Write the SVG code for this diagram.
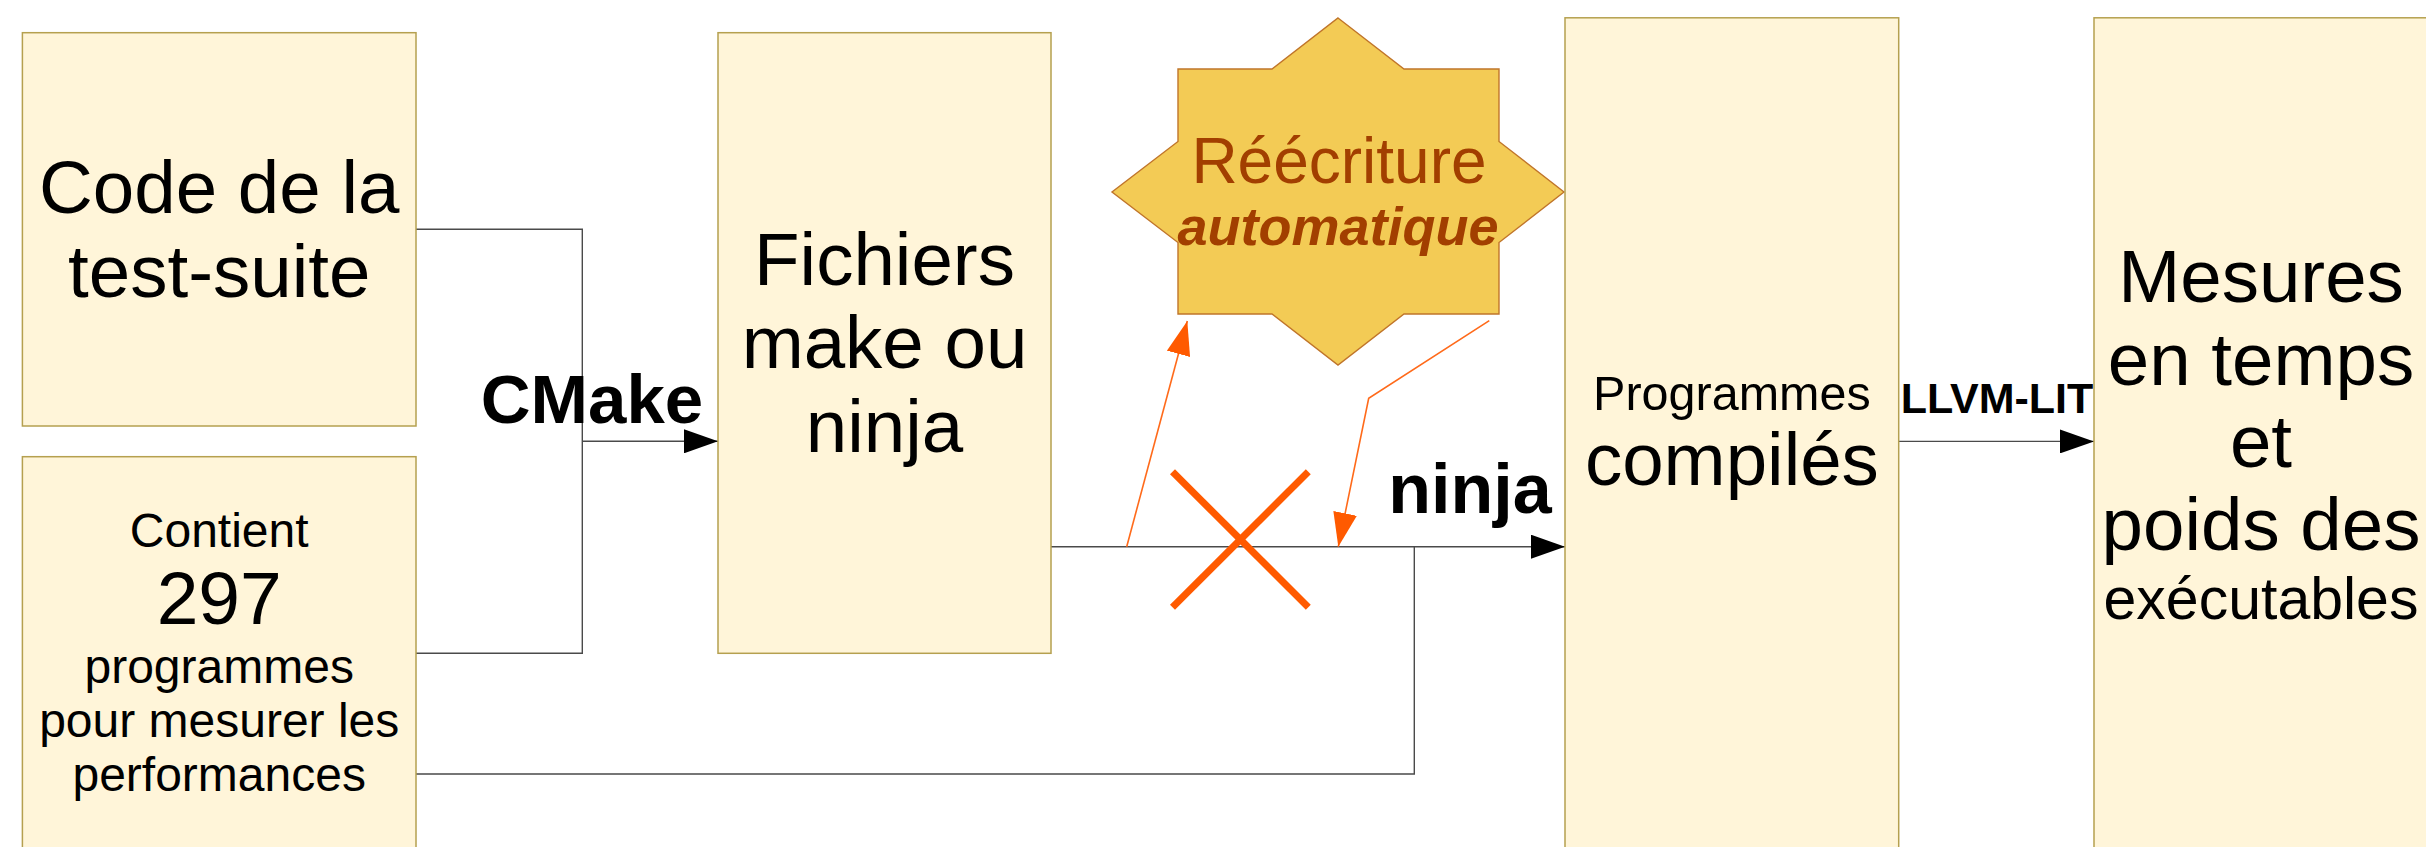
<svg xmlns="http://www.w3.org/2000/svg" width="2426" height="847" viewBox="0 0 2426 847">
  <style>
    .box { fill: #fff5d9; stroke: #b5a04f; stroke-width: 1.5; }
    .t { font-family: "Liberation Sans", Arial, sans-serif; fill: #000; text-anchor: middle; }
    .lbl { font-family: "Liberation Sans", Arial, sans-serif; font-weight: bold; fill: #000; text-anchor: middle; }
    .wire { fill: none; stroke: #4a4a4a; stroke-width: 1.4; }
    .orange { fill: none; stroke: #ff6a1a; stroke-width: 1.6; }
    .star-t { font-family: "Liberation Sans", Arial, sans-serif; fill: #a23f00; text-anchor: middle; }
  </style>
  <defs>
    <marker id="arrow" markerWidth="34" markerHeight="24" refX="34" refY="12" orient="auto" markerUnits="userSpaceOnUse">
      <path d="M0,0 L34,12 L0,24 Z" fill="#000"/>
    </marker>
    <marker id="arrow-o" markerWidth="34" markerHeight="24" refX="34" refY="12" orient="auto" markerUnits="userSpaceOnUse">
      <path d="M0,0 L34,12 L0,24 Z" fill="#ff5a00"/>
    </marker>
  </defs>

  <rect width="2426" height="847" fill="#fff"/>

  <!-- connectors -->
  <g id="connectors">
    <!-- both sources merge into CMake -->
    <polyline class="wire" points="416,229.3 582.3,229.3 582.3,653.3 416,653.3"/>
    <line class="wire" x1="582.3" y1="441.3" x2="718" y2="441.3" stroke="#000" marker-end="url(#arrow)"/>
    <!-- ninja build -->
    <line class="wire" x1="1051" y1="546.7" x2="1565" y2="546.7" stroke="#000" marker-end="url(#arrow)"/>
    <polyline class="wire" points="416,774 1414.3,774 1414.3,546.7"/>
    <!-- LLVM-LIT -->
    <line class="wire" x1="1898.7" y1="441.4" x2="2094" y2="441.4" stroke="#000" marker-end="url(#arrow)"/>
    <!-- rewriting detour -->
    <line class="orange" x1="1126.7" y1="546.7" x2="1187.3" y2="321" marker-end="url(#arrow-o)"/>
    <polyline class="orange" points="1489.3,320.7 1368.7,398.3 1338.3,546.7" marker-end="url(#arrow-o)"/>
    <!-- crossed-out path -->
    <g stroke="#ff5a00" stroke-width="7">
      <line x1="1172.5" y1="471.7" x2="1308.3" y2="607.3"/>
      <line x1="1308.3" y1="471.7" x2="1172.5" y2="607.3"/>
    </g>
    <text class="lbl" x="592" y="422.7" font-size="69">CMake</text>
    <text class="lbl" x="1470" y="513.3" font-size="70">ninja</text>
    <text class="lbl" x="1997" y="413.3" font-size="43">LLVM-LIT</text>
  </g>

  <g id="code">
    <rect class="box" x="22.4" y="32.7" width="393.6" height="393.3"/>
    <text class="t" font-size="74.5" x="219.2" y="213.3">Code de la</text>
    <text class="t" font-size="74.5" x="219.2" y="296.7">test-suite</text>
  </g>

  <g id="contient">
    <rect class="box" x="22.4" y="456.7" width="393.6" height="420"/>
    <text class="t" font-size="48" x="219.2" y="547.3">Contient</text>
    <text class="t" font-size="75" x="219.2" y="624">297</text>
    <text class="t" font-size="48" x="219.2" y="683.3">programmes</text>
    <text class="t" font-size="48" x="219.2" y="736.7">pour mesurer les</text>
    <text class="t" font-size="48" x="219.2" y="790.5">performances</text>
  </g>

  <g id="fichiers">
    <rect class="box" x="718" y="32.7" width="333" height="620.6"/>
    <text class="t" font-size="74.5" x="884.5" y="285">Fichiers</text>
    <text class="t" font-size="74.5" x="884.5" y="368.3">make ou</text>
    <text class="t" font-size="74.5" x="884.5" y="451.7">ninja</text>
  </g>

  <g id="reecriture">
    <polygon points="1338,18 1404,69 1499,69 1499,141.5 1564,192 1499,242.5 1499,314 1404,314 1338,365 1272,314 1178,314 1178,242.5 1112,192 1178,141.5 1178,69 1272,69" fill="#f3cb55" stroke="#c0752a" stroke-width="1.4"/>
    <text class="star-t" font-size="64" x="1339" y="183.3">Réécriture</text>
    <text class="star-t" font-size="54" font-weight="bold" font-style="italic" x="1338" y="245">automatique</text>
  </g>

  <g id="compiles">
    <rect class="box" x="1565" y="17.8" width="333.7" height="860"/>
    <text class="t" font-size="48.5" x="1731.9" y="409.5">Programmes</text>
    <text class="t" font-size="74.5" x="1731.9" y="485.1">compilés</text>
  </g>

  <g id="mesures">
    <rect class="box" x="2094" y="17.8" width="334" height="860"/>
    <text class="t" font-size="74.5" x="2261" y="301.5">Mesures</text>
    <text class="t" font-size="74.5" x="2261" y="384.7">en temps</text>
    <text class="t" font-size="74.5" x="2261" y="467.3">et</text>
    <text class="t" font-size="74.5" x="2261" y="550">poids des</text>
    <text class="t" font-size="59" x="2261" y="618.6">exécutables</text>
  </g>
</svg>
